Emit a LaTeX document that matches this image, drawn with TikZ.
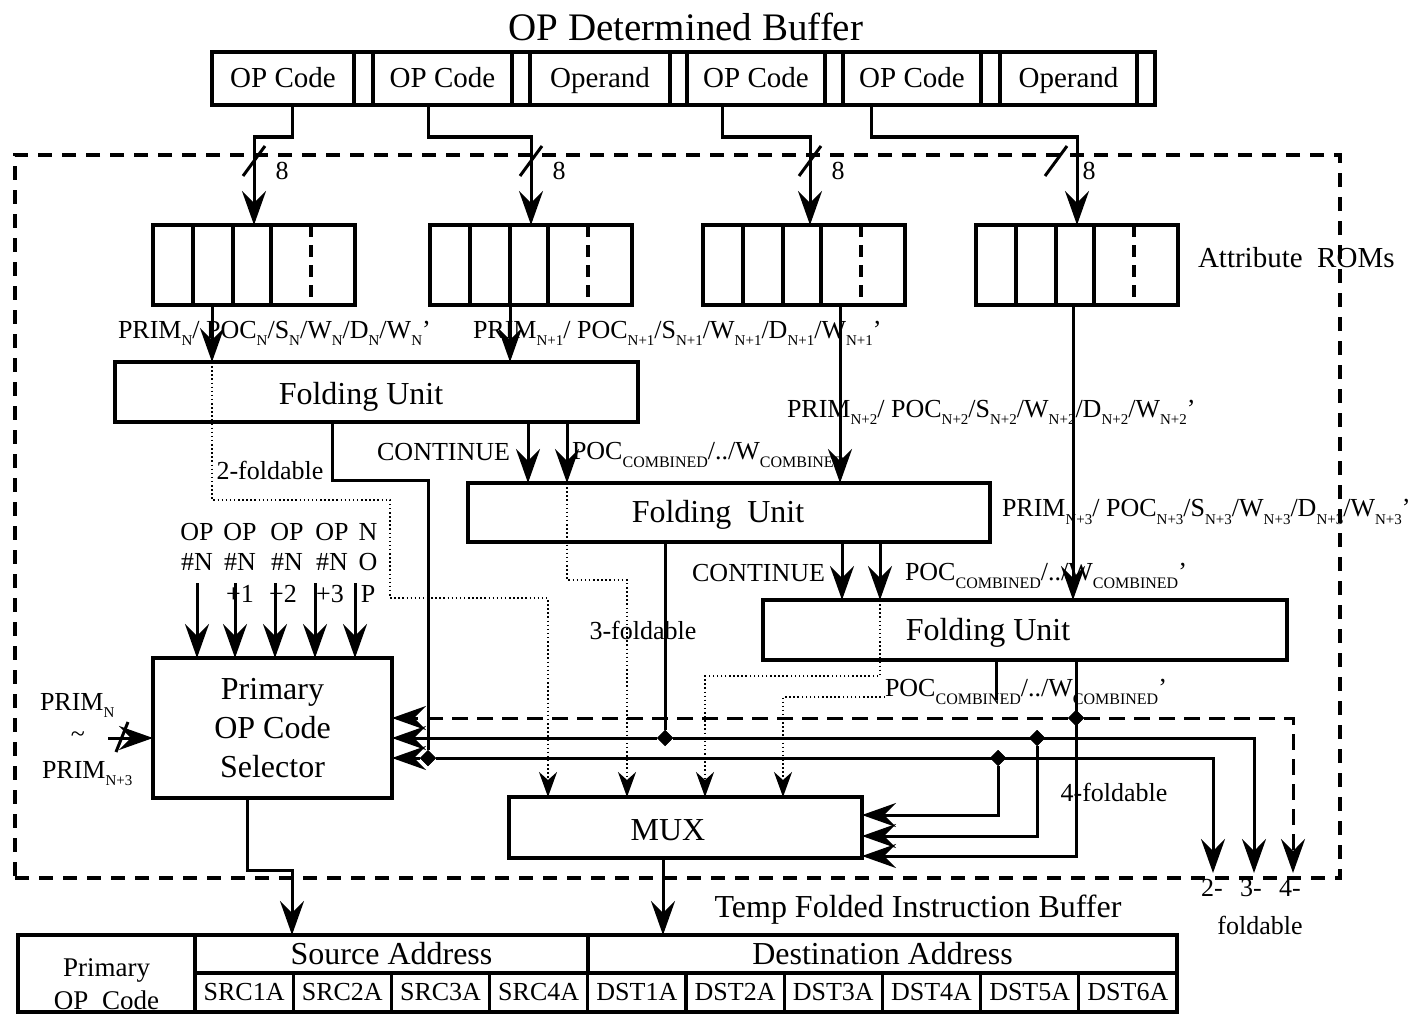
\documentclass[tikz,border=0pt]{standalone}
\usepackage{fontspec}
\setmainfont{Liberation Serif}
\usetikzlibrary{arrows.meta,shapes.geometric,calc}
\newcommand{\sbs}[1]{\raisebox{-0.28em}{\fontsize{15}{15}\selectfont #1}}
\newcommand{\cmbsub}{\raisebox{-0.32em}{\fontsize{16}{16}\selectfont COMBINED}}
\begin{document}
\begin{tikzpicture}[x=1pt,y=-1pt,
  every node/.style={inner sep=0pt,outer sep=0pt},
  box/.style={draw,line width=3.2pt,font=\fontsize{32}{34}\selectfont},
  wire/.style={line width=3pt},
  arr/.style={wire,-{Stealth[length=34pt,width=24pt,inset=12pt]}},
  dashwire/.style={dash pattern=on 16pt off 9pt},
  dotarr/.style={line width=2.2pt,dash pattern=on 1.5pt off 2.6pt,-{Stealth[length=25pt,width=18pt,inset=8pt]}},
  lbl/.style={font=\fontsize{26}{30}\selectfont},
  big/.style={font=\fontsize{32}{34}\selectfont},
  jn/.style={diamond,fill,minimum size=16pt,inner sep=0pt},
]
\useasboundingbox (0,0) rectangle (1426,1014);

% boundary
\node[draw,line width=3.2pt,dash pattern=on 14pt off 10pt,minimum width=1325pt,minimum height=723pt] (bound) at (677.5,516.5) {};

% title and top buffer
\node[font=\fontsize{39}{40}\selectfont] (title) at (686,27) {OP Determined Buffer};
\foreach \nm/\xa/\xb/\txt in {c1/212/354/OP Code, s1/354/373/, c2/373/512/OP Code, s2/512/530/, c3/530/670/Operand, s3/670/687/, c4/687/825/OP Code, s4/825/843/, c5/843/981/OP Code, s5/981/1000/, c6/1000/1137/Operand, s6/1137/1155/}
  \node[box,font=\fontsize{29}{30}\selectfont,text height=22pt,text depth=3pt,minimum width={\xb-\xa},minimum height=53pt] (\nm) at ({(\xa+\xb)/2},78.5) {\txt};

% attribute ROMs
\foreach \nm/\xa in {rom1/153, rom2/430, rom3/703, rom4/976} {
  \node[box,minimum width=202pt,minimum height=80pt] (\nm) at (\xa+101,265) {};
  \foreach \d in {40,80,118}
    \draw[line width=3.2pt] ($(\nm.north west)+(\d,0)$) -- ($(\nm.south west)+(\d,0)$);
  \draw[line width=3.2pt,dash pattern=on 12pt off 8pt] ($(\nm.north west)+(158,0)$) -- ($(\nm.south west)+(158,0)$);
}
\node[font=\fontsize{29}{30}\selectfont,anchor=west] (arom) at (1198,258) {Attribute\ \ ROMs};

% folding units, selector, mux
\node[box,minimum width=523pt,minimum height=60pt] (fu1) at (376.5,392) {};
\node[big] (fu1t) at (361,397) {Folding Unit};
\node[box,minimum width=522pt,minimum height=59pt] (fu2) at (729,512.5) {};
\node[big] (fu2t) at (718,515) {Folding\ \ Unit};
\node[box,minimum width=524pt,minimum height=60pt] (fu3) at (1025,630) {};
\node[big] (fu3t) at (988,633) {Folding Unit};
\node[box,minimum width=239pt,minimum height=140pt,align=center,font=\fontsize{32}{39}\selectfont] (sel) at (272.5,728) {Primary\\OP Code\\Selector};
\node[box,minimum width=353pt,minimum height=61pt] (mux) at (685.5,827.5) {};
\node[big] (muxt) at (668,830) {MUX};

% bottom buffer
\node[big] (tfib) at (918,910) {Temp Folded Instruction Buffer};
\node[box,minimum width=177pt,minimum height=77pt] (pri) at (106.5,973.5) {};
\node[font=\fontsize{27}{33}\selectfont,align=center] (prit) at (106.5,984) {Primary\\OP\ \ Code};
\node[box,minimum width=393pt,minimum height=38pt] (srch) at (391.5,954) {Source Address};
\node[box,minimum width=589pt,minimum height=38pt] (dsth) at (882.5,954) {Destination Address};
\foreach \txt [count=\i from 0] in {SRC1A,SRC2A,SRC3A,SRC4A,DST1A,DST2A,DST3A,DST4A,DST5A,DST6A}
  \node[box,font=\fontsize{26}{26}\selectfont,minimum width=98.2pt,minimum height=39pt] (cell\i) at ({195+98.2*\i+49.1},992.5) {\txt};

% 8-bit lines from buffer to ROMs
\coordinate (t1) at ($(c1.south)+(9,0)$);
\coordinate (t2) at ($(c2.south)+(-14.5,0)$);
\coordinate (t3) at ($(c4.south)+(-34,0)$);
\coordinate (t4) at ($(c5.south)+(-41,0)$);
\draw[arr] (t1) -- ++(0,32) -| (rom1.north);
\draw[arr] (t2) -- ++(0,32) -| (rom2.north);
\draw[arr] (t3) -- ++(0,32) -| ($(rom3.north)+(6,0)$);
\draw[arr] (t4) -- ++(0,32) -| (rom4.north);
\foreach \x in {254,531,810} {
  \draw[wire] (\x-11,176) -- (\x+11,146);
  \node[lbl] (eight\x) at (\x+28,171) {8};
}
\draw[wire] (1045,176) -- (1067,146);
\node[lbl] (eight4) at (1089,171) {8};

% ROM outputs
\coordinate (r1o) at ($(rom1.south)+(-42,0)$);
\coordinate (r2o) at ($(rom2.south)+(-21,0)$);
\coordinate (r3o) at ($(rom3.south)+(36,0)$);
\coordinate (r4o) at ($(rom4.south)+(-4,0)$);
\draw[arr] (r1o) -- (r1o |- fu1.north);
\draw[arr] (r2o) -- (r2o |- fu1.north);
\draw[arr] (r3o) -- (r3o |- fu2.north);
\draw[arr] (r4o) -- (r4o |- fu3.north);
\node[lbl,anchor=west] (lN) at (118,333) {PRIM\sbs{N}/ POC\sbs{N}/S\sbs{N}/W\sbs{N}/D\sbs{N}/W\sbs{N}'};
\node[lbl,anchor=west] (lN1) at (473,333) {PRIM\sbs{N+1}/ POC\sbs{N+1}/S\sbs{N+1}/W\sbs{N+1}/D\sbs{N+1}/W\sbs{N+1}'};
\node[lbl,anchor=west] (lN2) at (787,412) {PRIM\sbs{N+2}/ POC\sbs{N+2}/S\sbs{N+2}/W\sbs{N+2}/D\sbs{N+2}/W\sbs{N+2}'};
\node[lbl,anchor=west] (lN3) at (1002,512) {PRIM\sbs{N+3}/ POC\sbs{N+3}/S\sbs{N+3}/W\sbs{N+3}/D\sbs{N+3}/W\sbs{N+3}'};

% junction positions
\coordinate (o2) at (1213,873);
\coordinate (o3) at (1254,873);
\coordinate (o4) at (1293,873);
\coordinate (m1) at ($(mux.east)+(0,-12.5)$);
\coordinate (m2) at ($(mux.east)+(0,8.5)$);
\coordinate (m3) at ($(mux.east)+(0,28.5)$);
\coordinate (mx1) at ($(mux.north)+(-137.5,0)$);
\coordinate (mx2) at ($(mux.north)+(-58.5,0)$);
\coordinate (mx3) at ($(mux.north)+(19.5,0)$);
\coordinate (mx4) at ($(mux.north)+(97.5,0)$);
\node[jn] (d2a) at (428,758) {};
\node[jn] (d2b) at (998,758) {};
\node[jn] (d3a) at (665,738) {};
\node[jn] (d3b) at (1037,738) {};
\node[jn] (d4a) at (1076,718) {};

% folding unit outputs
\coordinate (f1a) at ($(fu1.south)+(-44.5,0)$);
\coordinate (f1b) at ($(fu1.south)+(151.5,0)$);
\coordinate (f1c) at ($(fu1.south)+(190.5,0)$);
\coordinate (f2a) at ($(fu2.south)+(-64,0)$);
\coordinate (f2b) at ($(fu2.south)+(113,0)$);
\coordinate (f2c) at ($(fu2.south)+(151,0)$);
\coordinate (f3a) at ($(fu3.south)+(-29,0)$);
\coordinate (f3b) at ($(fu3.south)+(51,0)$);
\coordinate (f3e) at ($(f3a)+(0,40)$);
\draw[wire] (f1a) -- ++(0,58) -| (d2a);
\draw[arr] (f1b) -- (f1b |- fu2.north);
\draw[arr] (f1c) -- (f1c |- fu2.north);
\draw[wire] (f2a) -- (d3a);
\draw[arr] (f2b) -- (f2b |- fu3.north);
\draw[arr] (f2c) -- (f2c |- fu3.north);
\draw[wire] (f3a) -- (f3e);
\draw[arr] (f3b) |- (m3);
\node[lbl,anchor=east] (cont1) at (510,452) {CONTINUE};
\node[lbl,anchor=west] (poc1) at (572,455) {POC\cmbsub/../W\cmbsub};
\node[lbl,anchor=east] (cont2) at (825,573) {CONTINUE};
\node[lbl,anchor=west] (poc2) at (905,576) {POC\cmbsub/../W\cmbsub'};
\node[lbl,anchor=west] (poc3) at (885,692) {POC\cmbsub/../W\cmbsub'};
\node[lbl] (f2l) at (270,470) {2-foldable};
\node[lbl] (f3l) at (643,630) {3-foldable};
\node[lbl] (f4l) at (1114,792) {4-foldable};

% buses
\draw[arr] (d2a) -- (d2a -| sel.east);
\draw[arr] (d2a) -| (o2);
\draw[arr] (d2b) |- (m1);
\draw[arr] (d3a) -- (d3a -| sel.east);
\draw[arr] (d3a) -| (o3);
\draw[arr] (d3b) |- (m2);
\draw[arr,dashwire] (d4a) -- (d4a -| sel.east);
\draw[arr,dashwire] (d4a) -| (o4);
\node[jn] (d2a') at (d2a) {};
\node[jn] (d2b') at (d2b) {};
\node[jn] (d3a') at (d3a) {};
\node[jn] (d3b') at (d3b) {};
\node[jn] (d4a') at (d4a) {};
\node[lbl] (o2l) at (1212,888) {2-};
\node[lbl] (o3l) at (1251,888) {3-};
\node[lbl] (o4l) at (1290,888) {4-};
\node[lbl] (fdl) at (1260,925) {foldable};

% dotted paths to MUX
\coordinate (dp1) at (r1o |- fu1.north);
\coordinate (dp4) at (885,697);
\draw[dotarr] (dp1) -- ++(0,138) -- ++(178,0) -- ++(0,98) -| (mx1);
\draw[dotarr] (f1c |- fu2.north) -- ++(0,97) -| (mx2);
\draw[dotarr] (f2c |- fu3.north) -- ++(0,76) -| (mx3);
\draw[dotarr] (dp4) -| (mx4);

% selector inputs
\foreach \x [count=\i] in {197,235,275,315,355} {
  \coordinate (st\i) at (\x,583);
  \draw[arr] (st\i) -- (st\i |- sel.north);
}
\foreach \x/\a/\b [count=\i] in {197/OP/\#N, 240/OP/\#N, 287/OP/\#N, 332/OP/\#N, 368/N/O} {
  \node[lbl,anchor=base] (ra\i) at (\x,540) {\a};
  \node[lbl,anchor=base] (rb\i) at (\x,570) {\b};
}
\node[lbl,anchor=base] (rc2) at (240,602) {+1};
\node[lbl,anchor=base] (rc3) at (283,602) {+2};
\node[lbl,anchor=base] (rc4) at (330,602) {+3};
\node[lbl,anchor=base] (rc5) at (368,602) {P};

\coordinate (pin) at (108,738);
\draw[arr] (pin) -- (pin -| sel.west);
\draw[wire] (116,752) -- (128,722);
\node[lbl,anchor=base west] (pn) at (40,710) {PRIM\sbs{N}};
\node[lbl] (tl) at (78,737) {\textasciitilde};
\node[lbl,anchor=base west] (pn3) at (42,778) {PRIM\sbs{N+3}};

% outputs to temp buffer
\coordinate (so) at ($(sel.south)+(-25.5,0)$);
\coordinate (bi1) at ($(srch.north)+(-99.5,0)$);
\draw[arr] (so) -- ++(0,72) -| (bi1);
\coordinate (mo) at ($(mux.south)+(-22.5,0)$);
\draw[arr] (mo) -- (mo |- dsth.north);
\end{tikzpicture}
\end{document}
